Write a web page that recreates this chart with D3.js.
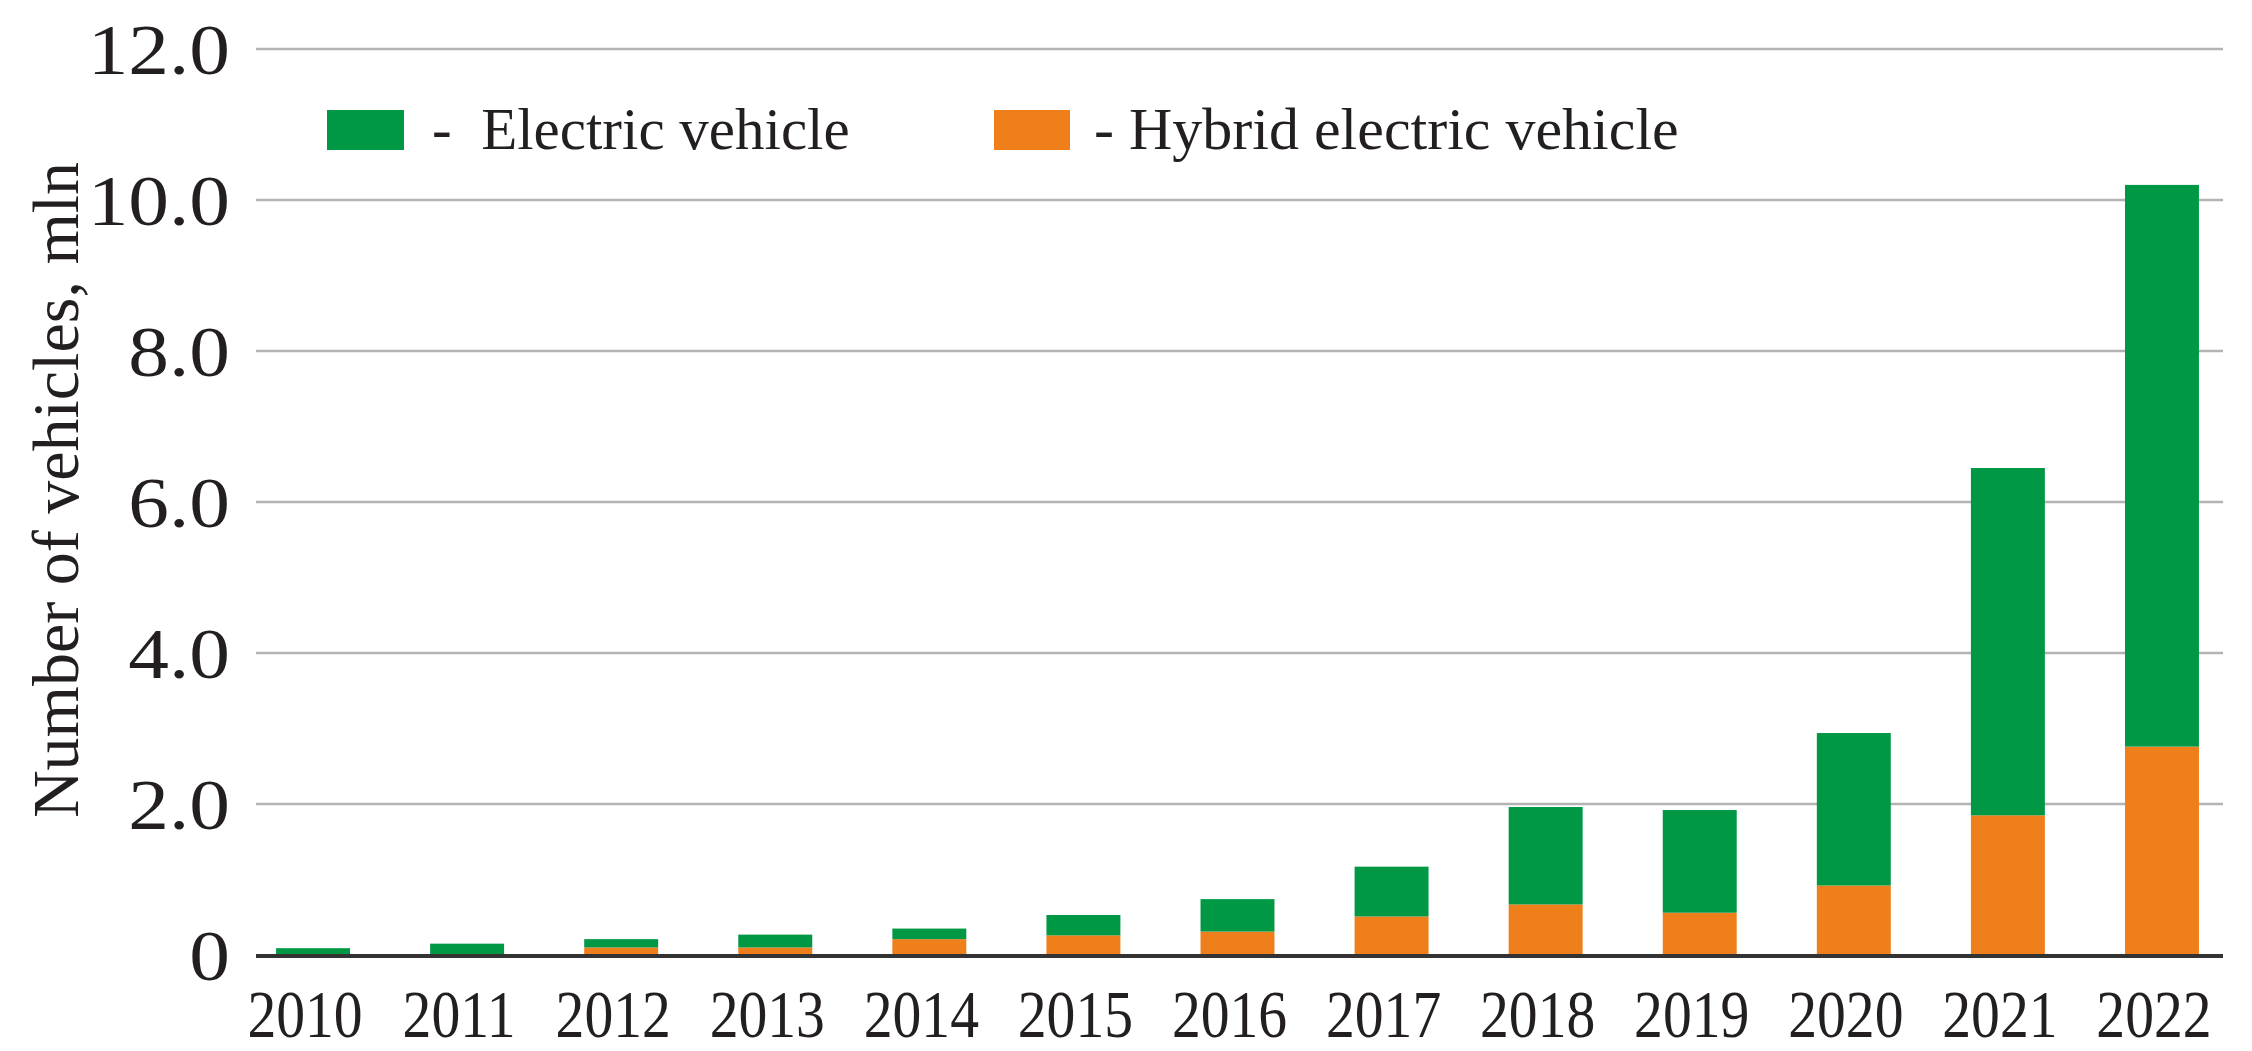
<!DOCTYPE html>
<html>
<head>
<meta charset="utf-8">
<script src="https://cdn.jsdelivr.net/npm/d3@7"></script>
<style>
  html, body { margin: 0; padding: 0; background: #fff; }
  text { font-family: "Liberation Serif", "Times New Roman", Times, serif; fill: #231f20; }
</style>
</head>
<body>
<div id="chart"></div>
<script>
// Data (millions of vehicles)
const years = ['2010', '2011', '2012', '2013', '2014', '2015', '2016', '2017', '2018', '2019', '2020', '2021', '2022'];
const hybrid = [0, 0, 0.10, 0.10, 0.21, 0.26, 0.31, 0.51, 0.67, 0.56, 0.92, 1.85, 2.76];
const electric = [0.09, 0.15, 0.11, 0.17, 0.14, 0.27, 0.43, 0.66, 1.29, 1.36, 2.02, 4.60, 7.44];
const yTicks = [0, 2, 4, 6, 8, 10, 12];
const seriesNames = ['- Hybrid electric vehicle', '-  Electric vehicle'];

const W = 2252, H = 1051;
const margin = { top: 49, right: 29, bottom: 96, left: 256 };
const width = W - margin.left - margin.right;
const height = H - margin.top - margin.bottom;
const serif = '"Liberation Serif", "Times New Roman", Times, serif';

const rows = years.map((y, i) => ({ year: y, hybrid: hybrid[i], electric: electric[i] }));
const stack = d3.stack().keys(['hybrid', 'electric'])(rows);
const colors = { hybrid: '#ef7f1a', electric: '#009845' };

// stretch or squeeze a text horizontally, like the original typesetting
function stretch(sel, factor) {
    sel.each(function() {
        const len = this.getComputedTextLength();
        d3.select(this)
            .attr('textLength', len * factor)
            .attr('lengthAdjust', 'spacingAndGlyphs');
    });
}

const svg = d3.select('#chart').append('svg')
    .attr('width', W)
    .attr('height', H);

const g = svg.append('g')
    .attr('transform', `translate(${margin.left},${margin.top})`);

const x = d3.scaleBand()
    .domain(years)
    .range([-20, width + 16])
    .paddingInner(0.52)
    .paddingOuter(0.26);

const y = d3.scaleLinear()
    .domain([0, 12])
    .range([height, 0]);

// gridlines
g.append('g')
    .selectAll('line')
    .data(yTicks.filter(d => d > 0))
    .enter().append('line')
    .attr('x1', 0)
    .attr('x2', width)
    .attr('y1', d => y(d))
    .attr('y2', d => y(d))
    .attr('stroke', '#b3b3b3')
    .attr('stroke-width', 2.5);

// y axis labels
const yAxis = g.append('g')
    .call(d3.axisLeft(y).tickValues(yTicks).tickSize(0).tickPadding(26)
        .tickFormat(d => d === 0 ? '0' : d3.format('.1f')(d)));
yAxis.select('.domain').remove();
yAxis.selectAll('text')
    .style('font-size', '72px')
    .style('font-family', serif)
    .attr('dy', '0.34em')
    .call(stretch, 1.13);

// bars
g.selectAll('.layer')
    .data(stack)
    .enter().append('g')
    .attr('class', 'layer')
    .attr('fill', d => colors[d.key])
    .selectAll('rect')
    .data(d => d)
    .enter().append('rect')
    .attr('x', d => x(d.data.year))
    .attr('y', d => y(d[1]))
    .attr('width', x.bandwidth())
    .attr('height', d => y(d[0]) - y(d[1]));

// zero baseline
g.append('line')
    .attr('x1', 0)
    .attr('x2', width)
    .attr('y1', y(0) + 1)
    .attr('y2', y(0) + 1)
    .attr('stroke', '#333')
    .attr('stroke-width', 4);

// x axis labels
const xAxis = g.append('g')
    .attr('transform', `translate(-8,${height})`)
    .call(d3.axisBottom(x).tickSize(0).tickPadding(34));
xAxis.select('.domain').remove();
xAxis.selectAll('text')
    .style('font-size', '67px')
    .style('font-family', serif)
    .attr('dy', '0.71em')
    .call(stretch, 0.86);

// y axis title
svg.append('text')
    .attr('transform', `translate(78,${490}) rotate(-90)`)
    .attr('text-anchor', 'middle')
    .style('font-size', '66px')
    .text('Number of vehicles, mln');

// legend
const legend = [
    { key: 'electric', label: seriesNames[1], box: 327, text: 432 },
    { key: 'hybrid', label: seriesNames[0], box: 994, text: 1094 }
];
const lg = svg.append('g');
lg.selectAll('rect')
    .data(legend)
    .enter().append('rect')
    .attr('x', d => d.box)
    .attr('y', 110)
    .attr('width', d => d.key === 'electric' ? 77 : 76)
    .attr('height', 40)
    .attr('fill', d => colors[d.key]);
lg.selectAll('text')
    .data(legend)
    .enter().append('text')
    .attr('x', d => d.text)
    .attr('y', 149)
    .style('font-size', d => d.key === 'electric' ? '59px' : '60px')
    .attr('xml:space', 'preserve')
    .text(d => d.label);
</script>
</body>
</html>
